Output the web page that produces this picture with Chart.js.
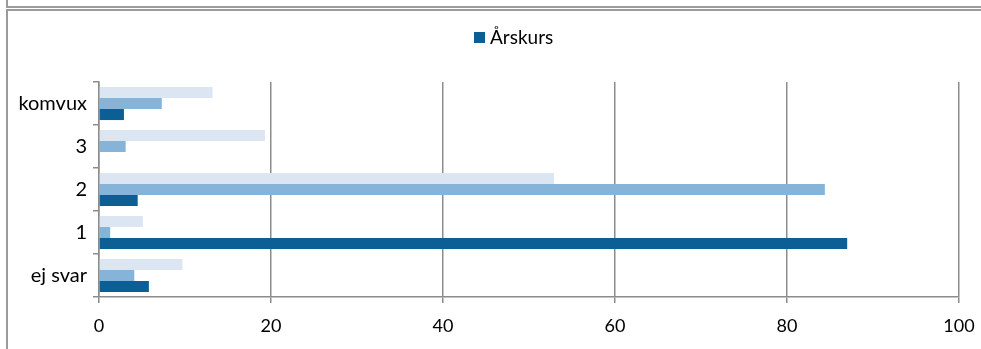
<!DOCTYPE html>
<html>
<head>
<meta charset="utf-8">
<script src="https://cdn.jsdelivr.net/npm/chart.js@4.4.0/dist/chart.umd.min.js"></script>
<style>
html, body { margin: 0; padding: 0; background: #fff; }
</style>
</head>
<body>
<canvas id="chart" width="981" height="349"></canvas>
<script>
// chart data
const categories = ['komvux', '3', '2', '1', 'ej svar'];
const lightValues = [13.2, 19.3, 52.9, 5.1, 9.7];     // top bar in each group
const mediumValues = [7.3, 3.1, 84.4, 1.3, 4.1];      // middle bar
const arskursValues = [2.9, 0, 4.5, 87.0, 5.8];       // "Årskurs", bottom bar
const xTickValues = [0, 20, 40, 60, 80, 100];

const darkBlue = '#0b5f95';
const midBlue = '#86b3d8';
const lightBlue = '#dbe6f2';
const axisGray = '#8c8c8c';

// draws the outer frame lines and the single legend entry
const frameAndLegend = {
    id: 'frameAndLegend',
    afterDraw: function(chart) {
        const ctx = chart.ctx;
        ctx.save();
        ctx.strokeStyle = '#9b9b9b';
        ctx.lineWidth = 2;
        ctx.beginPath();
        ctx.moveTo(7, 0); ctx.lineTo(7, 7);
        ctx.lineTo(chart.width, 7);
        ctx.moveTo(chart.width, 10); ctx.lineTo(7, 10);
        ctx.lineTo(7, chart.height);
        ctx.stroke();

        // legend: only the Årskurs series is listed
        const ds = chart.data.datasets[2];
        ctx.fillStyle = ds.backgroundColor;
        ctx.fillRect(474, 32, 11, 11);
        ctx.fillStyle = '#000';
        ctx.font = '19px Lato';
        ctx.textBaseline = 'middle';
        ctx.fillText(ds.label, 490, 38);
        ctx.restore();
    }
};

new Chart(document.getElementById('chart'), {
    type: 'bar',
    plugins: [frameAndLegend],
    data: {
        labels: categories,
        datasets: [
            { label: 'serie 3', data: lightValues, backgroundColor: lightBlue },
            { label: 'serie 2', data: mediumValues, backgroundColor: midBlue },
            { label: 'Årskurs', data: arskursValues, backgroundColor: darkBlue }
        ]
    },
    options: {
        indexAxis: 'y',
        responsive: false,
        animation: false,
        layout: { padding: { top: 82, right: 22, left: 0, bottom: 0 } },
        datasets: { bar: { categoryPercentage: 0.77, barPercentage: 1.0 } },
        plugins: {
            legend: { display: false },
            tooltip: { enabled: false }
        },
        scales: {
            x: {
                min: 0,
                max: 100,
                afterBuildTicks: function(scale) {
                    scale.ticks = xTickValues.map(v => ({ value: v }));
                },
                ticks: { color: '#000', font: { family: 'Lato', size: 18 }, padding: 12 },
                grid: { color: axisGray, lineWidth: 1.5, tickLength: 6 },
                border: { color: axisGray, width: 1.5 },
                afterFit: function(scale) {
                    scale.height = 52;
                    scale.paddingLeft = 0;   // keep the plot edges where the layout padding puts them
                    scale.paddingRight = 0;
                }
            },
            y: {
                ticks: { color: '#000', font: { family: 'Lato', size: 20 }, padding: 6 },
                grid: { drawOnChartArea: false, color: axisGray, lineWidth: 1.5, tickLength: 6 },
                border: { color: axisGray, width: 1.5 },
                afterFit: function(scale) {
                    scale.width = 99;
                    scale.paddingTop = 0;
                    scale.paddingBottom = 0;
                }
            }
        }
    }
});
</script>
</body>
</html>
